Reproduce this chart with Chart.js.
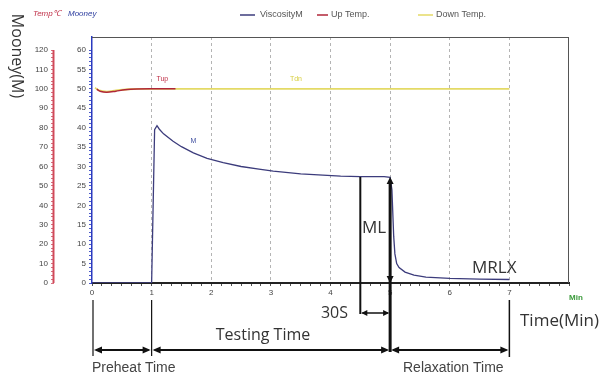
<!DOCTYPE html>
<html><head><meta charset="utf-8">
<script src="https://cdn.jsdelivr.net/npm/chart.js@4/dist/chart.umd.min.js"></script>
<style>html,body{margin:0;padding:0;background:#fff;}#wrap{width:605px;height:378px;position:relative;}</style>
</head><body><div id="wrap"><canvas id="c" width="605" height="378"></canvas></div>
<script>
// ---- data ----
const seriesNames = ['ViscosityM', 'Up Temp.', 'Down Temp.'];
const timeM = [0, 1.0, 1.05, 1.09, 1.13, 1.2, 1.36, 1.5, 1.7, 1.93, 2.2, 2.5, 2.8, 3.04, 3.5, 4.17, 4.5, 4.9, 5.0, 5.03, 5.06, 5.08, 5.11, 5.15, 5.25, 5.4, 5.6, 6.0, 6.5, 7.0];
const viscosity = [0, 0, 39.5, 40.5, 39.6, 38.4, 36.5, 35.1, 33.5, 32.1, 31.0, 30.0, 29.3, 28.8, 28.1, 27.5, 27.4, 27.4, 27.2, 24, 12, 7.5, 5, 4, 2.8, 2.0, 1.5, 1.2, 1.0, 0.9];
const timeUp = [0.08, 0.15, 0.25, 0.4, 0.55, 0.75, 1.0, 1.4];
const upTemp = [99.8, 98.6, 98.2, 98.8, 99.5, 99.9, 100, 100];
const timeDown = [0.05, 0.12, 0.25, 0.4, 0.6, 0.8, 7.0];
const downTemp = [100.6, 99.2, 98.6, 99.2, 99.8, 100, 100];
const xTickLabels = ['0', '1', '2', '3', '4', '5', '6', '7'];
const mooneyTicks = [0, 5, 10, 15, 20, 25, 30, 35, 40, 45, 50, 55, 60];
const tempTicks = [0, 10, 20, 30, 40, 50, 60, 70, 80, 90, 100, 110, 120];

const zip = (xs, ys) => xs.map((x, i) => ({x: x, y: ys[i]}));
const COL_M = '#3c3c7c', COL_UP = '#b02638', COL_DN = '#e4da66';

function arrowHead(ctx, x, y, dir, len, hw) {
  len = len || 7; hw = hw || 3.5;
  ctx.beginPath();
  if (dir === 'left') { ctx.moveTo(x, y); ctx.lineTo(x + len, y - hw); ctx.lineTo(x + len, y + hw); }
  if (dir === 'right') { ctx.moveTo(x, y); ctx.lineTo(x - len, y - hw); ctx.lineTo(x - len, y + hw); }
  if (dir === 'up') { ctx.moveTo(x, y); ctx.lineTo(x - hw, y + len); ctx.lineTo(x + hw, y + len); }
  if (dir === 'down') { ctx.moveTo(x, y); ctx.lineTo(x - hw, y - len); ctx.lineTo(x + hw, y - len); }
  ctx.closePath(); ctx.fill();
}
function line(ctx, x1, y1, x2, y2, w) {
  ctx.lineWidth = w; ctx.beginPath(); ctx.moveTo(x1, y1); ctx.lineTo(x2, y2); ctx.stroke();
}

const annot = {
  id: 'annot',
  afterDraw(chart) {
    const ctx = chart.ctx, xs = chart.scales.x, ys = chart.scales.y, y2 = chart.scales.y2;
    const ca = chart.chartArea;
    ctx.save();
    // frame top/right
    ctx.strokeStyle = '#555'; line(ctx, ca.left, ca.top + 0.5, ca.right, ca.top + 0.5, 1);
    line(ctx, ca.right - 0.5, ca.top, ca.right - 0.5, ca.bottom, 1);
    // red temperature axis line (0..120)
    ctx.strokeStyle = '#d04a5a';
    line(ctx, y2.right - 0.5, y2.getPixelForValue(120), y2.right - 0.5, y2.getPixelForValue(0), 2);

    // rotated axis title
    ctx.save();
    ctx.fillStyle = '#333'; ctx.font = '16px "Open Sans"'; ctx.textAlign = 'center'; ctx.textBaseline = 'middle';
    ctx.translate(17, 56); ctx.rotate(Math.PI / 2); ctx.fillText('Mooney(M)', 0, 0);
    ctx.restore();

    // top-left unit labels
    ctx.font = 'italic 8px "Liberation Sans"'; ctx.textBaseline = 'middle'; ctx.textAlign = 'left';
    ctx.fillStyle = '#c03048'; ctx.fillText('Temp℃', 33, 14);
    ctx.fillStyle = '#3040a0'; ctx.fillText('Mooney', 68, 14);

    // legend
    ctx.font = '9px "Liberation Sans"'; ctx.fillStyle = '#555';
    const leg = [[240, 255, 260, COL_M], [317, 328, 331, COL_UP], [418, 433, 436, COL_DN]];
    leg.forEach((l, i) => {
      ctx.strokeStyle = l[3]; line(ctx, l[0], 15, l[1], 15, 1.5);
      ctx.fillText(seriesNames[i], l[2], 15);
    });

    // series labels
    ctx.font = '7px "Liberation Sans"'; ctx.textAlign = 'center';
    ctx.fillStyle = '#c03048'; ctx.fillText('Tup', xs.getPixelForValue(1.18), y2.getPixelForValue(105));
    ctx.fillStyle = '#d8cf40'; ctx.fillText('Tdn', xs.getPixelForValue(3.42), y2.getPixelForValue(105));
    ctx.fillStyle = '#4050a0'; ctx.fillText('M', xs.getPixelForValue(1.7), ys.getPixelForValue(36.5));

    // "Min" unit
    ctx.font = 'bold 8px "Liberation Sans"'; ctx.fillStyle = '#3a9a3a'; ctx.fillText('Min', 576, 298);

    ctx.strokeStyle = '#111'; ctx.fillStyle = '#111';
    const x0 = xs.getPixelForValue(0), x1 = xs.getPixelForValue(1), x45 = xs.getPixelForValue(4.5),
          x5 = xs.getPixelForValue(5), x7 = xs.getPixelForValue(7);
    const yML = ys.getPixelForValue(27.3), yBase = ys.getPixelForValue(0);
    // 30S marker
    line(ctx, x45, yML, x45, 314, 2);
    line(ctx, x45 + 2, 313, x5 - 2, 313, 1.5);
    arrowHead(ctx, x45 + 1, 313, 'left', 6, 3);
    arrowHead(ctx, x5 - 1, 313, 'right', 6, 3);
    // ML marker
    line(ctx, x5, yML + 4, x5, 352, 3);
    arrowHead(ctx, x5, yML, 'up', 7, 3.5);
    arrowHead(ctx, x5, yBase, 'down', 7, 3.5);
    // timeline verticals
    line(ctx, x0 + 1, 300, x0 + 1, 356, 1.2);
    line(ctx, x1, 300, x1, 356, 1.2);
    line(ctx, x7, 300, x7, 357, 1.5);
    // timeline arrows
    const ty = 350;
    [[x0 + 1, x1], [x1, x5], [x5, x7]].forEach(s => {
      line(ctx, s[0] + 3, ty, s[1] - 3, ty, 2);
      arrowHead(ctx, s[0] + 1, ty, 'left', 8, 3.5);
      arrowHead(ctx, s[1] - 1, ty, 'right', 8, 3.5);
    });

    // annotation texts
    ctx.fillStyle = '#333'; ctx.textBaseline = 'middle';
    ctx.font = '17px "Open Sans"';
    ctx.textAlign = 'right'; ctx.fillText('ML', x5 - 4, 228);
    ctx.textAlign = 'left'; ctx.fillText('MRLX', 472, 268);
    ctx.font = '16px "Open Sans"';
    ctx.textAlign = 'right'; ctx.fillText('30S', 348, 313);
    ctx.textAlign = 'center'; ctx.fillText('Testing Time', 263, 335);
    ctx.font = '17px "Open Sans"'; ctx.textAlign = 'left'; ctx.fillText('Time(Min)', 520, 321);
    ctx.font = '14px "Liberation Sans"'; ctx.fillStyle = '#444';
    ctx.fillText('Preheat Time', 92, 368);
    ctx.fillText('Relaxation Time', 403, 368);
    ctx.restore();
  }
};

new Chart(document.getElementById('c'), {
  type: 'line',
  data: {
    datasets: [
      {label: seriesNames[0], data: zip(timeM, viscosity), yAxisID: 'y', borderColor: COL_M, borderWidth: 1.3, pointRadius: 0, tension: 0},
      {label: seriesNames[1], data: zip(timeUp, upTemp), yAxisID: 'y2', borderColor: COL_UP, borderWidth: 1.5, pointRadius: 0, tension: 0.3},
      {label: seriesNames[2], data: zip(timeDown, downTemp), yAxisID: 'y2', borderColor: COL_DN, borderWidth: 1.8, pointRadius: 0, tension: 0.3}
    ]
  },
  options: {
    responsive: false, animation: false, devicePixelRatio: 1,
    layout: {padding: {top: 37, right: 36, left: 0, bottom: 0}},
    plugins: {legend: {display: false}, tooltip: {enabled: false}},
    scales: {
      x: {
        type: 'linear', min: 0, max: 8,
        afterBuildTicks: s => { s.ticks = []; for (let i = 0; i <= 48; i++) s.ticks.push({value: i / 6}); },
        ticks: {autoSkip: false, maxRotation: 0, padding: 2, color: '#444', font: {size: 8, family: 'Liberation Sans'},
          callback: v => { const r = Math.round(v); return (Math.abs(v - r) < 1e-6 && r < xTickLabels.length) ? xTickLabels[r] : ''; }},
        grid: {
          color: c => { const v = c.tick ? c.tick.value : 0; const r = Math.round(v); return (Math.abs(v - r) < 1e-6 && r >= 1 && r <= 7) ? '#b4b4b4' : 'rgba(0,0,0,0)'; },
          tickColor: '#555', tickLength: 3, lineWidth: 1
        },
        border: {color: '#222', width: 2, dash: [3, 3]},
        afterFit: s => { s.height = 95; }
      },
      y: {
        position: 'left', min: 0, max: 63.35, weight: 0,
        afterBuildTicks: s => { s.ticks = []; for (let v = 0; v <= 60; v++) s.ticks.push({value: v}); },
        ticks: {autoSkip: false, padding: 3, color: '#444', font: {size: 8, family: 'Liberation Sans'},
          callback: v => mooneyTicks.includes(v) ? String(v) : ''},
        grid: {drawOnChartArea: false, tickColor: '#4a58c8', tickLength: 3},
        border: {color: '#2a3ac0', width: 1.5},
        afterFit: s => { s.width = 38; }
      },
      y2: {
        position: 'left', min: 0, max: 126.7, weight: 1,
        afterBuildTicks: s => { s.ticks = []; for (let v = 0; v <= 120; v += 2) s.ticks.push({value: v}); },
        ticks: {autoSkip: false, padding: 3, color: '#444', font: {size: 8, family: 'Liberation Sans'},
          callback: v => tempTicks.includes(v) ? String(v) : ''},
        grid: {drawOnChartArea: false, tickColor: '#d87080', tickLength: 3},
        border: {display: false},
        afterFit: s => { s.width = 54; }
      }
    }
  },
  plugins: [annot]
});
</script></body></html>
